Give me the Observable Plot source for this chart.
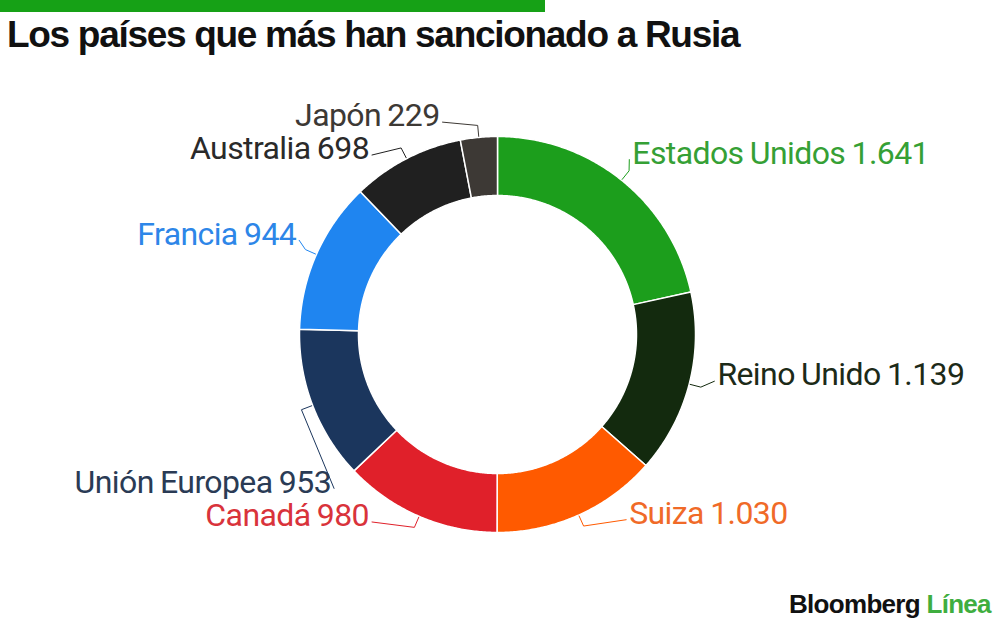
<!DOCTYPE html>
<html><head><meta charset="utf-8">
<script src="https://cdn.jsdelivr.net/npm/d3@7"></script>
<script src="https://cdn.jsdelivr.net/npm/@observablehq/plot@0.6"></script>
<style>
body{margin:0;background:#fff;width:1000px;height:625px;overflow:hidden;position:relative;font-family:"Liberation Sans",Arial,sans-serif}
#bar{position:absolute;left:0;top:0;width:545px;height:12px;background:#16a116}
#title{position:absolute;left:7px;top:16px;font-weight:bold;font-size:37px;line-height:37px;letter-spacing:-1.3px;color:#111;white-space:nowrap}
#chart{position:absolute;left:0;top:70px}
#chart svg text{letter-spacing:-0.6px;word-spacing:-1px}
#logo{position:absolute;left:789px;top:589px;font-weight:bold;font-size:26px;letter-spacing:-0.7px;color:#111;white-space:nowrap}
#logo span{color:#3fae3f}
</style></head><body>
<div id="bar"></div>
<div id="title">Los países que más han sancionado a Rusia</div>
<div id="chart"></div>
<div id="logo">Bloomberg <span>Línea</span></div>
<script>
// ---- data ----
const countries = ["Estados Unidos","Reino Unido","Suiza","Canadá","Unión Europea","Francia","Australia","Japón"];
const sanctions = [1641,1139,1030,980,953,944,698,229];
const valueLabels = ["1.641","1.139","1.030","980","953","944","698","229"];
const sliceColors = ["#1c9e1c","#132a0e","#ff5a00","#e0202a","#1b365d","#1f85f0","#202020","#3d3935"];
const textColors = ["#35a035","#1c2a18","#f06a28","#d9333b","#2a3b55","#2d86e8","#2a2a2a","#3d3935"];

// ---- layout ----
const W = 1000, H = 510;
const CX = 497, CY = 264;
const R = 198, R0 = 139, LR = 224;
const labelAngleDeg = [37, 101, 144, 215, 228, 296, 325, 345];
const rad = Math.PI / 180;
const pt = (r, a) => ({x: r * Math.sin(a), y: r * Math.cos(a)});

const data = countries.map((c, i) => ({name: c, value: sanctions[i], label: `${c} ${valueLabels[i]}`, i}));
const arcs = d3.pie().sort(null).value(d => d.value)(data);

const slicePts = arcs.flatMap(a => {
  const n = Math.max(2, Math.ceil((a.endAngle - a.startAngle) / (0.5 * rad)));
  const ts = d3.range(n + 1).map(k => a.startAngle + (a.endAngle - a.startAngle) * k / n);
  return [
    ...ts.map(t => ({...pt(R, t), name: a.data.name})),
    ...ts.slice().reverse().map(t => ({...pt(R0, t), name: a.data.name}))
  ];
});

const labels = arcs.map(a => {
  const la = labelAngleDeg[a.data.i] * rad;
  const p = pt(LR, la);
  const right = Math.sin(la) > 0;
  return {...p, right, mid: (a.startAngle + a.endAngle) / 2, d: a.data};
});

const leaderPts = labels.flatMap(l => {
  const e = pt(R + 12, l.mid), f = pt(R + 1, l.mid);
  return [
    {x: l.x + (l.right ? -3 : 3), y: l.y - 4, name: l.d.name},
    {...e, name: l.d.name},
    {...f, name: l.d.name}
  ];
});

const textMarks = labels.map(l => Plot.text([l], {
  x: "x", y: "y", text: d => d.d.label,
  textAnchor: l.right ? "start" : "end",
  fill: textColors[l.d.i],
  fontSize: 32, fontFamily: "Roboto, 'Liberation Sans', sans-serif", fontWeight: 400,
  dy: -2
}));

const chart = Plot.plot({
  width: W, height: H, margin: 0,
  x: {domain: [-CX, W - CX], axis: null},
  y: {domain: [-(H - CY), CY], axis: null},
  color: {domain: countries, range: sliceColors},
  marks: [
    Plot.line(slicePts, {x: "x", y: "y", z: "name", fill: "name", stroke: "white", strokeWidth: 1.5, curve: "linear-closed"}),
    Plot.line(leaderPts, {x: "x", y: "y", z: "name", stroke: "name", strokeWidth: 1}),
    ...textMarks
  ]
});
document.getElementById("chart").appendChild(chart);
</script>
</body></html>
